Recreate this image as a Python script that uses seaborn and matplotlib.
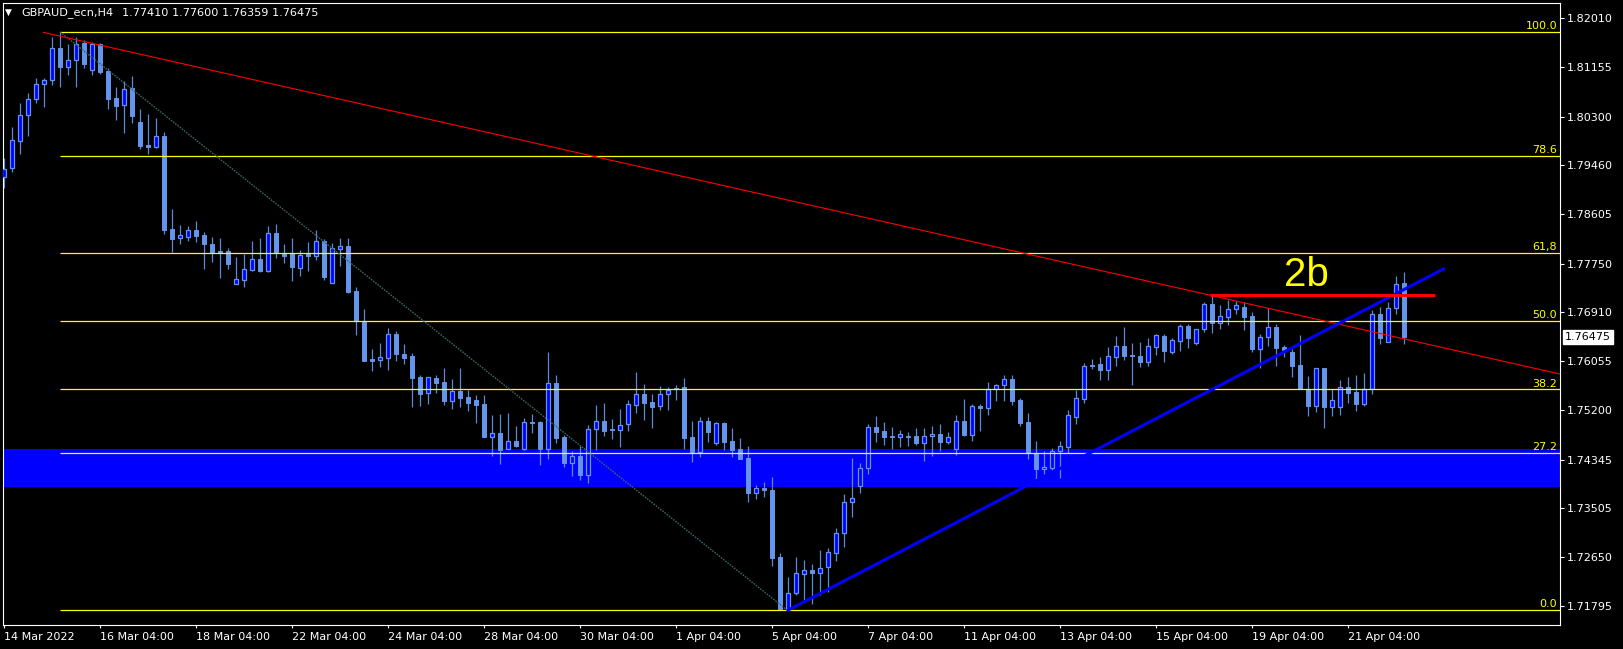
import matplotlib
matplotlib.use("Agg")
import matplotlib.pyplot as plt
import matplotlib.transforms as mtransforms
import numpy as np
import seaborn as sns

# ---- GBPAUD H4 candles ----
opens = [1.79258, 1.79403, 1.79883, 1.80323, 1.80601, 1.80862, 1.80931, 1.81487, 1.81168, 1.81278,
         1.81579, 1.81105, 1.81556, 1.81093, 1.80624, 1.80497, 1.80792, 1.80202, 1.79808, 1.79779,
         1.79964, 1.78343, 1.78187, 1.78204, 1.78326, 1.78245, 1.78089, 1.77961, 1.77961, 1.77400,
         1.77469, 1.77643, 1.77828, 1.77626, 1.78274, 1.77921, 1.77927, 1.77678, 1.77915, 1.77886,
         1.78135, 1.77417, 1.78008, 1.78048, 1.77273, 1.76734, 1.76092, 1.76068, 1.76115, 1.76520,
         1.76178, 1.76144, 1.75779, 1.75495, 1.75762, 1.75692, 1.75368, 1.75536, 1.75432, 1.75380,
         1.75310, 1.74743, 1.74807, 1.74523, 1.74668, 1.74534, 1.75003, 1.75003, 1.74534, 1.75669,
         1.74737, 1.74280, 1.74402, 1.74083, 1.74871, 1.75015, 1.74876, 1.74853, 1.74957, 1.75287,
         1.75484, 1.75345, 1.75270, 1.75478, 1.75588, 1.75606, 1.74737, 1.74483, 1.75015, 1.74627,
         1.74980, 1.74668, 1.74529, 1.74373, 1.73771, 1.73852, 1.73817, 1.72653, 1.71750, 1.72022,
         1.72352, 1.72428, 1.72381, 1.72486, 1.72729, 1.73064, 1.73602, 1.73880, 1.74193, 1.74905,
         1.74841, 1.74754, 1.74743, 1.74748, 1.74754, 1.74638, 1.74748, 1.74783, 1.74656, 1.74523,
         1.75015, 1.74777, 1.75275, 1.75246, 1.75565, 1.75646, 1.75738, 1.75379, 1.74997, 1.74453,
         1.74175, 1.74204, 1.74488, 1.74569, 1.75090, 1.75402, 1.75993, 1.76005, 1.75906, 1.76132,
         1.76318, 1.76167, 1.76144, 1.76046, 1.76306, 1.76491, 1.76219, 1.76410, 1.76665, 1.76364,
         1.76607, 1.77041, 1.76723, 1.76827, 1.76954, 1.76995, 1.76833, 1.76271, 1.76468, 1.76648,
         1.76294, 1.76213, 1.75988, 1.75571, 1.75281, 1.75930, 1.75264, 1.75264, 1.75600, 1.75525,
         1.75316, 1.75565, 1.76868, 1.76393, 1.76972, 1.77410]
highs = [1.79588, 1.80121, 1.80532, 1.80711, 1.80977, 1.80966, 1.81684, 1.81772, 1.81556, 1.81684,
         1.81637, 1.81591, 1.81574, 1.81151, 1.80815, 1.80919, 1.81006, 1.80427, 1.80341, 1.80271,
         1.80028, 1.78696, 1.78419, 1.78401, 1.78488, 1.78297, 1.78210, 1.78193, 1.78013, 1.77863,
         1.77921, 1.78141, 1.78193, 1.78401, 1.78436, 1.78088, 1.78193, 1.77985, 1.78124, 1.78332,
         1.78176, 1.78112, 1.78193, 1.78193, 1.77336, 1.76960, 1.76265, 1.76364, 1.76630, 1.76578,
         1.76352, 1.76190, 1.75814, 1.75785, 1.75814, 1.75935, 1.75744, 1.75935, 1.75553, 1.75466,
         1.75466, 1.75119, 1.75136, 1.75154, 1.74928, 1.75061, 1.75136, 1.75021, 1.76213, 1.75814,
         1.74778, 1.74494, 1.74581, 1.74940, 1.75293, 1.75328, 1.75050, 1.75218, 1.75380, 1.75866,
         1.75658, 1.75484, 1.75629, 1.75606, 1.75640, 1.75762, 1.75015, 1.75085, 1.75085, 1.74998,
         1.74998, 1.74894, 1.74720, 1.74581, 1.73904, 1.73956, 1.74049, 1.72723, 1.72306, 1.72648,
         1.72601, 1.72532, 1.72775, 1.72804, 1.73151, 1.73747, 1.74366, 1.74291, 1.74963, 1.75101,
         1.74997, 1.74910, 1.74858, 1.74824, 1.74893, 1.74893, 1.74928, 1.74963, 1.74824, 1.75119,
         1.75397, 1.75310, 1.75310, 1.75692, 1.75651, 1.75814, 1.75814, 1.75414, 1.75154, 1.74667,
         1.74494, 1.74546, 1.74662, 1.75206, 1.75553, 1.76022, 1.76086, 1.76120, 1.76294, 1.76491,
         1.76648, 1.76370, 1.76381, 1.76451, 1.76532, 1.76526, 1.76451, 1.76700, 1.76694, 1.76619,
         1.77088, 1.77192, 1.77030, 1.77111, 1.77105, 1.77076, 1.76908, 1.76520, 1.76972, 1.76700,
         1.76335, 1.76260, 1.76509, 1.75797, 1.75930, 1.75930, 1.75565, 1.75721, 1.75779, 1.75814,
         1.75843, 1.76943, 1.76995, 1.77088, 1.77533, 1.77600]
lows = [1.79067, 1.79345, 1.79657, 1.79970, 1.80543, 1.80474, 1.80850, 1.80821, 1.81024, 1.80821,
        1.81151, 1.81024, 1.81047, 1.80439, 1.80242, 1.80022, 1.80196, 1.79739, 1.79657, 1.79762,
        1.78268, 1.77956, 1.78094, 1.78147, 1.78129, 1.77660, 1.77782, 1.77504, 1.77660, 1.77400,
        1.77348, 1.77620, 1.77602, 1.77608, 1.77851, 1.77765, 1.77446, 1.77533, 1.77620, 1.77811,
        1.77464, 1.77417, 1.77713, 1.77238, 1.76514, 1.76057, 1.75883, 1.75958, 1.75901, 1.76057,
        1.76011, 1.75264, 1.75281, 1.75316, 1.75507, 1.75299, 1.75229, 1.75264, 1.75194, 1.74986,
        1.74743, 1.74413, 1.74274, 1.74523, 1.74563, 1.74517, 1.74801, 1.74257, 1.74361, 1.74627,
        1.74210, 1.74066, 1.73996, 1.73944, 1.74512, 1.74755, 1.74703, 1.74570, 1.74847, 1.75160,
        1.75038, 1.74899, 1.75212, 1.75212, 1.75380, 1.74529, 1.74309, 1.74384, 1.74651, 1.74593,
        1.74506, 1.74396, 1.74350, 1.73614, 1.73666, 1.73701, 1.72503, 1.71731, 1.71735, 1.71993,
        1.71867, 1.71838, 1.71994, 1.72040, 1.72590, 1.72821, 1.73353, 1.73770, 1.74088, 1.74650,
        1.74598, 1.74528, 1.74569, 1.74580, 1.74604, 1.74326, 1.74413, 1.74494, 1.74615, 1.74430,
        1.74754, 1.74673, 1.74847, 1.75125, 1.75368, 1.75368, 1.75298, 1.74934, 1.74349, 1.74013,
        1.74088, 1.74164, 1.74019, 1.74465, 1.74968, 1.75321, 1.75924, 1.75732, 1.75732, 1.75976,
        1.76080, 1.75646, 1.75959, 1.75970, 1.76161, 1.76046, 1.76184, 1.76231, 1.76289, 1.76329,
        1.76567, 1.76549, 1.76607, 1.76682, 1.76873, 1.76601, 1.76213, 1.75935, 1.76312, 1.75970,
        1.76127, 1.75785, 1.75565, 1.75108, 1.75177, 1.74899, 1.75108, 1.75125, 1.75322, 1.75195,
        1.75281, 1.75490, 1.76358, 1.76381, 1.76868, 1.76359]
closes = [1.79391, 1.79889, 1.80323, 1.80601, 1.80862, 1.80931, 1.81487, 1.81168, 1.81278, 1.81568,
          1.81221, 1.81556, 1.81082, 1.80613, 1.80491, 1.80775, 1.80317, 1.79796, 1.79779, 1.79958,
          1.78338, 1.78181, 1.78239, 1.78326, 1.78233, 1.78083, 1.77927, 1.77932, 1.77747, 1.77475,
          1.77649, 1.77822, 1.77620, 1.78274, 1.77927, 1.77886, 1.77689, 1.77892, 1.77886, 1.78135,
          1.77516, 1.78014, 1.78048, 1.77255, 1.76752, 1.76057, 1.76063, 1.76121, 1.76520, 1.76178,
          1.76109, 1.75767, 1.75490, 1.75773, 1.75681, 1.75368, 1.75530, 1.75420, 1.75333, 1.75293,
          1.74743, 1.74801, 1.74517, 1.74662, 1.74581, 1.74998, 1.74986, 1.74534, 1.75669, 1.74720,
          1.74291, 1.74402, 1.74083, 1.74871, 1.75015, 1.74847, 1.74853, 1.74940, 1.75305, 1.75484,
          1.75334, 1.75264, 1.75478, 1.75559, 1.75571, 1.74726, 1.74483, 1.75015, 1.74830, 1.74975,
          1.74656, 1.74517, 1.74361, 1.73771, 1.73852, 1.73823, 1.72642, 1.71750, 1.72022, 1.72370,
          1.72428, 1.72381, 1.72468, 1.72740, 1.73064, 1.73603, 1.73672, 1.74193, 1.74905, 1.74829,
          1.74743, 1.74737, 1.74783, 1.74731, 1.74638, 1.74748, 1.74783, 1.74650, 1.74737, 1.75015,
          1.74766, 1.75269, 1.75240, 1.75565, 1.75634, 1.75738, 1.75368, 1.74986, 1.74453, 1.74175,
          1.74216, 1.74494, 1.74580, 1.75113, 1.75408, 1.75964, 1.75964, 1.75906, 1.76138, 1.76317,
          1.76150, 1.76138, 1.76046, 1.76318, 1.76509, 1.76231, 1.76416, 1.76665, 1.76462, 1.76607,
          1.77041, 1.76723, 1.76833, 1.76960, 1.77030, 1.76821, 1.76271, 1.76474, 1.76642, 1.76289,
          1.76254, 1.75970, 1.75565, 1.75276, 1.75930, 1.75264, 1.75380, 1.75600, 1.75507, 1.75310,
          1.75565, 1.76868, 1.76451, 1.76972, 1.77400, 1.76475]

date_ticks = [0, 12, 24, 36, 48, 60, 72, 84, 96, 108, 120, 132, 144, 156, 168]
date_labels = ["14 Mar 2022", "16 Mar 04:00", "18 Mar 04:00", "22 Mar 04:00", "24 Mar 04:00",
               "28 Mar 04:00", "30 Mar 04:00", "1 Apr 04:00", "5 Apr 04:00", "7 Apr 04:00",
               "11 Apr 04:00", "13 Apr 04:00", "15 Apr 04:00", "19 Apr 04:00", "21 Apr 04:00"]
price_ticks = [1.82010, 1.81155, 1.80300, 1.79460, 1.78605, 1.77750, 1.76910,
               1.76055, 1.75200, 1.74345, 1.73505, 1.72650, 1.71795]

# fibonacci retracement anchors and levels
fib_low, fib_high = 1.71731, 1.81772
fib_ratios = [0.0, 0.272, 0.382, 0.50, 0.618, 0.786, 1.0]
fib_texts = ["0.0", "27.2", "38.2", "50.0", "61,8", "78.6", "100.0"]
fib_start = 7
fib_diag_x = [7, 97.9]
fib_diag_y = [1.81772, 1.71731]

# drawn objects
zone_top, zone_bottom = 1.74525, 1.73870
red_trend_x = [4.9, 194.5]
red_trend_y = [1.81765, 1.75831]
support_x = [98, 180]
support_y = [1.71730, 1.77660]
level_2b_x = [150.8, 178.9]
level_2b = 1.77198
last_price = 1.76475
header = "GBPAUD_ecn,H4"
header_ohlc = "1.77410 1.77600 1.76359 1.76475"

BLUE = "#0000FF"
CORN = "#6495ED"
WICK = "#5A8AD8"
YELLOW = "#FFFF00"

sns.set_theme(style="dark", rc={"axes.facecolor": "black", "figure.facecolor": "black",
                                "axes.edgecolor": "white", "text.color": "white",
                                "xtick.color": "white", "ytick.color": "white"})
plt.rcParams["font.family"] = ["DejaVu Sans"]

W, H = 1623, 649
fig = plt.figure(figsize=(W / 100, H / 100), dpi=100)
ax = fig.add_axes([2.7 / W, (H - 625.3) / H, (1559.5 - 2.7) / W, (625.3 - 2.5) / H])
ax.set_facecolor("black")

o = np.array(opens)
h = np.array(highs)
l = np.array(lows)
c = np.array(closes)
idx = np.arange(len(o))
bull = c >= o

# zone behind everything
ax.axhspan(zone_bottom, zone_top, color=BLUE, lw=0, zorder=0)

# candles
ax.vlines(idx, l, h, color=WICK, lw=0.9, zorder=2)
bottom = np.minimum(o, c)
height = np.maximum(np.abs(c - o), 0.00004)
ax.bar(idx[bull], height[bull], bottom=bottom[bull], width=0.62, color=BLUE,
       edgecolor=CORN, linewidth=0.9, zorder=3)
ax.bar(idx[~bull], height[~bull], bottom=bottom[~bull], width=0.62, color=CORN,
       edgecolor=CORN, linewidth=0.7, zorder=3)

xmin, xmax = -0.1625, 194.44
ax.set_xlim(xmin, xmax)
ax.set_ylim(1.71467, 1.82283)

# fibonacci levels
fib_levels = [fib_low + r * (fib_high - fib_low) for r in fib_ratios]
trans = mtransforms.blended_transform_factory(ax.transAxes, ax.transData)
for lev, txt in zip(fib_levels, fib_texts):
    ax.hlines(lev, fib_start, xmax, color=YELLOW, lw=0.9, zorder=4)
    ax.text(0.9985, lev + 0.00012, txt, transform=trans, ha="right", va="bottom",
            color=YELLOW, fontsize=8, zorder=6)
sns.lineplot(x=fib_diag_x, y=fib_diag_y, ax=ax, color="#3A6464", lw=1.0,
             linestyle=(0, (1.2, 0.8)), zorder=4)

# trend lines
sns.lineplot(x=red_trend_x, y=red_trend_y, ax=ax, color="#FF0000", lw=0.8, zorder=5)
sns.lineplot(x=support_x, y=support_y, ax=ax, color=BLUE, lw=2.2, zorder=5)
ax.hlines(level_2b, level_2b_x[0], level_2b_x[1], color="#FF0000", lw=2.2, zorder=5)
ax.text(162.8, 1.7755, "2b", color=YELLOW, fontsize=29, ha="center", va="center",
        family="Liberation Sans", zorder=6)

# axes styling
for sp in ax.spines.values():
    sp.set_color("white")
    sp.set_linewidth(0.8)
ax.grid(False)
ax.yaxis.tick_right()
ax.set_yticks(price_ticks)
ax.set_yticklabels([f"{p:.5f}" for p in price_ticks])
ax.set_xticks(date_ticks)
ax.set_xticklabels(date_labels, ha="left")
ax.tick_params(axis="x", direction="out", length=2.4, width=0.8, pad=2.4,
               labelsize=8, colors="white", bottom=True)
ax.tick_params(axis="y", direction="out", length=2.7, width=0.8, pad=2.6,
               labelsize=8, colors="white", right=True, left=False)
for lab in ax.get_xticklabels():
    lab.set_horizontalalignment("left")

# last price marker on the scale
ax.text(1.0035, last_price, f"{last_price:.5f}", transform=trans, ha="left", va="center",
        color="black", fontsize=8,
        bbox=dict(boxstyle="square,pad=0.15", facecolor="white", edgecolor="white"),
        clip_on=False, zorder=7)

# header
fig.text(5 / W, 1 - 12.7 / H, "\u25BC", color="white", fontsize=6.5, va="center", ha="left")
fig.text(21.7 / W, 1 - 12.7 / H, header, color="white", fontsize=8.1, va="center", ha="left")
fig.text(121.7 / W, 1 - 12.7 / H, header_ohlc, color="white", fontsize=8.1, va="center",
         ha="left")

fig.savefig("out.png", dpi=100, facecolor="black")
